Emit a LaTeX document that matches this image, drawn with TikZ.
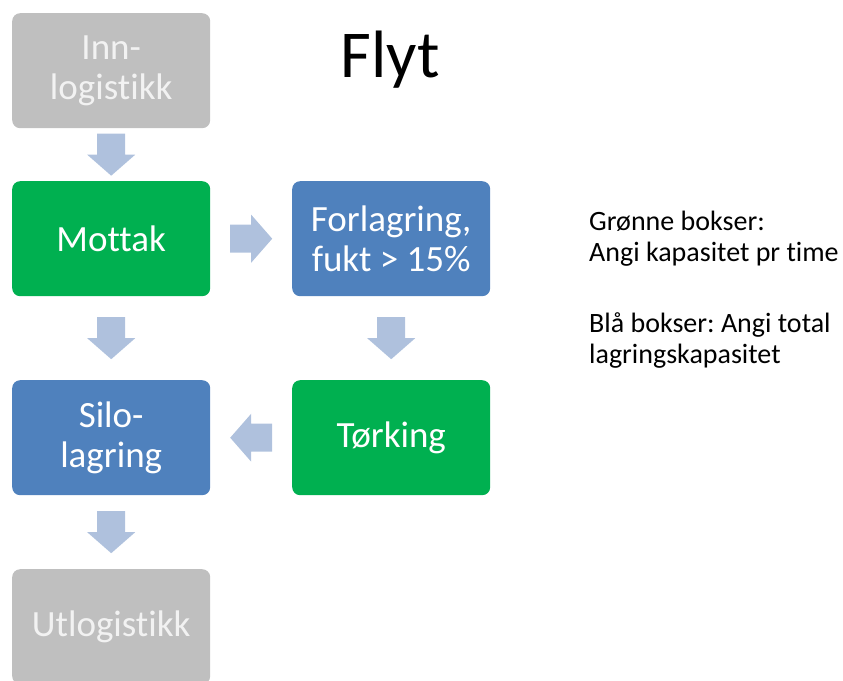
\documentclass[tikz,border=0pt]{standalone}
\usepackage{fontspec}
\setmainfont{Carlito}[Ligatures=NoCommon]
\usetikzlibrary{calc}
\definecolor{boxgray}{HTML}{BFBFBF}
\definecolor{boxgreen}{HTML}{00B050}
\definecolor{boxblue}{HTML}{4F81BD}
\definecolor{arrowblue}{HTML}{AFC1DD}
\definecolor{lighttext}{HTML}{F2F2F2}
\frenchspacing
\begin{document}
\begin{tikzpicture}[x=1pt,y=-1pt,
  box/.style={rounded corners=8pt, minimum width=198pt, minimum height=115pt,
    text=white, font=\fontsize{37}{40}\selectfont, align=center, inner sep=0pt,
    anchor=north west},
  graybox/.style={box, fill=boxgray, text=lighttext},
  greenbox/.style={box, fill=boxgreen},
  bluebox/.style={box, fill=boxblue},
  note/.style={anchor=base west, align=left, inner sep=0pt, font=\fontsize{28}{31}\selectfont},
  barrow/.pic={\fill[arrowblue] (-21,-14) -- (0,-14) -- (0,-24) -- (21,0) -- (0,24) -- (0,14) -- (-21,14) -- cycle;}
]
\useasboundingbox (0,0) rectangle (843,680);
\clip (0,0) rectangle (843,680);
\node[graybox] (inn) at (12,13) {Inn-\\logistikk};
\node[greenbox] (mot) at (12,181) {Mottak};
\node[bluebox] (for) at (292,181) {Forlagring,\\fukt > 15\%};
\node[bluebox] (silo) at (12,380) {Silo-\\lagring};
\node[greenbox] (tor) at (292,380) {Tørking};
\node[graybox] (ut) at (12,569) {Utlogistikk};
\node[font=\fontsize{67}{70}\selectfont, anchor=base, inner sep=0pt] (title) at (390,77) {Flyt};
\node[note] (n1) at (589,261) {Grønne bokser:\\Angi kapasitet pr time};
\node[note] (n2) at (589,363) {Blå bokser: Angi total\\lagringskapasitet};
\pic[rotate=-90] at ($(inn.south)!0.5!(mot.north)$) {barrow};
\pic at ($(mot.east)!0.5!(for.west)$) {barrow};
\pic[rotate=-90] at ($(for.south)!0.5!(tor.north)$) {barrow};
\pic[rotate=180] at ($(tor.west)!0.5!(silo.east)$) {barrow};
\pic[rotate=-90] at ($(mot.south)!0.5!(silo.north)$) {barrow};
\pic[rotate=-90] at ($(silo.south)!0.5!(ut.north)$) {barrow};
\end{tikzpicture}
\end{document}
